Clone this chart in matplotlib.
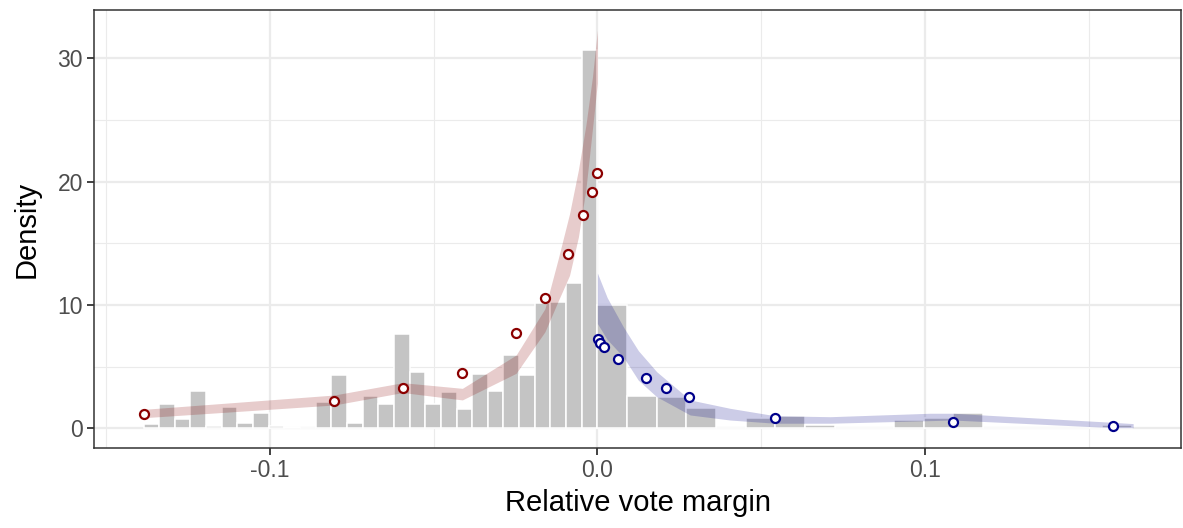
import numpy as np
import matplotlib
matplotlib.use("Agg")
import matplotlib.pyplot as plt

plt.rcParams['font.family'] = ['Liberation Sans', 'DejaVu Sans']

# histogram of the margin, below the cutoff (29 equal bins) and above it (18 bins)
left_range = (-0.1385, 0.0)
left_density = [0.32, 2.0, 0.75, 3.05, 0.19, 1.70, 0.45, 1.24, 0.19, 0.10,
                0.0, 2.13, 4.3, 0.43, 2.6, 2.0, 7.65, 4.59, 2.0, 2.94,
                1.54, 4.43, 3.05, 5.97, 4.3, 10.14, 10.27, 11.8, 30.7]
right_range = (0.0, 0.163)
right_density = [9.98, 2.62, 2.56, 1.62, 0.0, 0.86, 0.97, 0.24, 0.0,
                 0.0, 0.65, 0.81, 1.22, 0.0, 0.0, 0.0, 0.0, 0.27]

# binned density points
red_x = [-0.1383, -0.0803, -0.0594, -0.0412, -0.0248, -0.0160, -0.0090, -0.0043, -0.0017, -0.0001]
red_y = [1.13, 2.24, 3.27, 4.51, 7.70, 10.59, 14.11, 17.30, 19.14, 20.7]
blue_x = [0.0001, 0.0008, 0.00195, 0.0063, 0.0149, 0.0209, 0.0279, 0.0542, 0.1085, 0.1575]
blue_y = [7.22, 6.94, 6.57, 5.60, 4.08, 3.29, 2.51, 0.86, 0.54, 0.21]

# confidence bands of the local polynomial fit
red_band_x = [-0.1383, -0.0803, -0.0594, -0.0412, -0.0248, -0.0160, -0.0120, -0.0085, -0.0058, -0.0035, -0.0015, 0.0]
red_upper = [1.54, 2.70, 3.70, 3.24, 5.94, 9.7, 13.7, 17.4, 20.95, 24.6, 28.5, 32.3]
red_lower = [0.86, 1.89, 2.90, 2.30, 4.46, 7.83, 10.3, 12.4, 15.5, 19.4, 24.3, 28.0]
blue_band_x = [0.0, 0.003, 0.0079, 0.0125, 0.0181, 0.0283, 0.0405, 0.0542, 0.0710, 0.1015, 0.1085, 0.1575, 0.1635]
blue_upper = [12.6, 10.6, 8.24, 6.3, 4.59, 2.30, 1.62, 1.02, 0.94, 1.22, 1.22, 0.48, 0.38]
blue_lower = [8.5, 7.2, 5.8, 3.9, 2.56, 1.08, 0.67, 0.41, 0.41, 0.62, 0.67, 0.05, 0.05]

fig = plt.figure(figsize=(11.83, 5.28), dpi=100)
ax = fig.add_axes([0.0795, 0.1515, 0.9188, 0.8295])

# bars
for rng, dens in [(left_range, left_density), (right_range, right_density)]:
    edges = np.linspace(rng[0], rng[1], len(dens) + 1)
    ax.bar(edges[:-1], dens, width=np.diff(edges), align='edge',
           color='#c4c4c4', edgecolor='white', linewidth=1.1, zorder=2)

# bands
ax.fill_between(red_band_x, red_lower, red_upper, color='darkred', alpha=0.2, linewidth=0, zorder=3)
ax.fill_between(blue_band_x, blue_lower, blue_upper, color='darkblue', alpha=0.2, linewidth=0, zorder=3)

# points
ax.plot(red_x, red_y, 'o', ms=6.5, mfc='white', mec='#8B0000', mew=1.6, zorder=4)
ax.plot(blue_x, blue_y, 'o', ms=6.5, mfc='white', mec='#00008B', mew=1.6, zorder=4)

ax.set_xlim(-0.1536, 0.1781)
ax.set_ylim(-1.6, 33.93)

ax.set_xticks([-0.1, 0.0, 0.1])
ax.set_xticklabels(['-0.1', '0.0', '0.1'])
ax.set_xticks([-0.15, -0.05, 0.05, 0.15], minor=True)
ax.set_yticks([0, 10, 20, 30])
ax.set_yticks([5, 15, 25], minor=True)

ax.grid(True, which='major', color='#ebebeb', linewidth=1.6, zorder=0)
ax.grid(True, which='minor', color='#ebebeb', linewidth=0.8, zorder=0)
ax.set_axisbelow(True)

for s in ax.spines.values():
    s.set_color('#333333')
    s.set_linewidth(1.1)

ax.tick_params(which='major', length=5, width=1.3, color='#333333',
               labelsize=16.5, labelcolor='#4d4d4d', pad=3)
ax.tick_params(which='minor', length=0)

ax.set_xlabel('Relative vote margin', fontsize=21, labelpad=5)
ax.set_ylabel('Density', fontsize=21, labelpad=12)

fig.savefig('out.png', dpi=100)
